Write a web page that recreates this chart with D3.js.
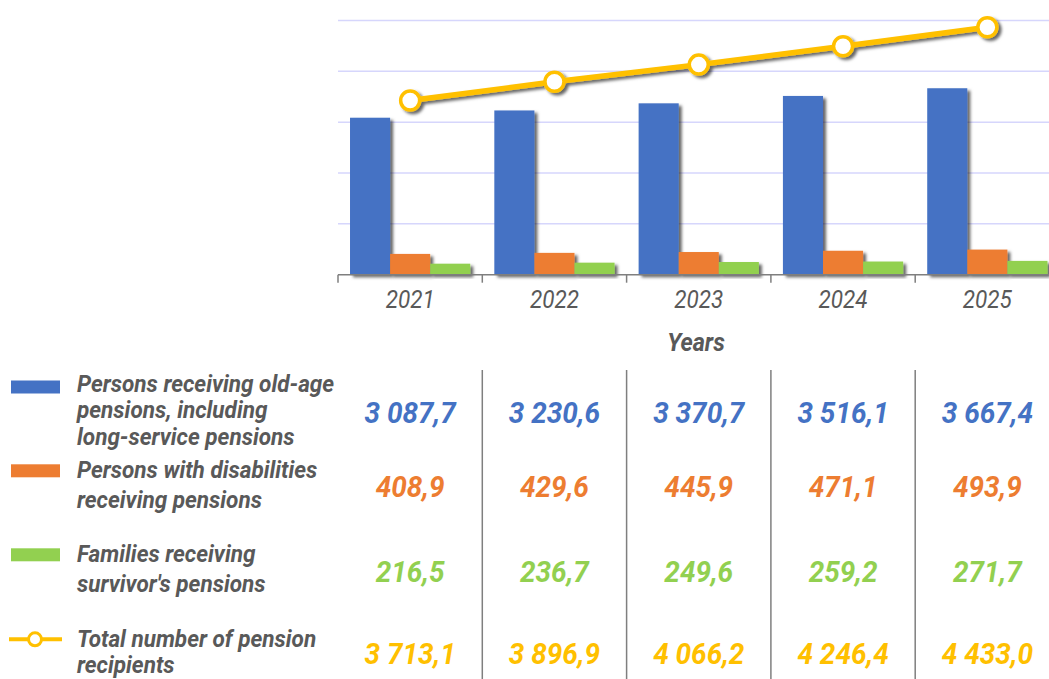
<!DOCTYPE html>
<html>
<head>
<meta charset="utf-8">
<script src="https://cdn.jsdelivr.net/npm/d3@7"></script>
<style>
  body { margin: 0; background: #fff; }
  text { font-family: Roboto, "Noto Sans", sans-serif; }
</style>
</head>
<body>
<div id="chart"></div>
<script>
// data
const years = ["2021", "2022", "2023", "2024", "2025"];
const oldAge = [3087.7, 3230.6, 3370.7, 3516.1, 3667.4];
const disability = [408.9, 429.6, 445.9, 471.1, 493.9];
const survivor = [216.5, 236.7, 249.6, 259.2, 271.7];
const total = [3713.1, 3896.9, 4066.2, 4246.4, 4433.0];
const seriesNames = [
    ["Persons receiving old-age", "pensions, including", "long-service pensions"],
    ["Persons with disabilities", "receiving pensions"],
    ["Families receiving", "survivor's pensions"],
    ["Total number of pension", "recipients"]
];
const colors = ["#4472C4", "#ED7D31", "#92D050", "#FFC000"];
const barKeys = ["oldAge", "disability", "survivor"];

const W = 1049, H = 679;
const svg = d3.select("#chart").append("svg")
    .attr("width", W).attr("height", H);

const defs = svg.append("defs");
const shadow = defs.append("filter").attr("id", "shadow")
    .attr("x", "-20%").attr("y", "-20%").attr("width", "150%").attr("height", "150%");
shadow.append("feDropShadow")
    .attr("dx", 3).attr("dy", 2.5).attr("stdDeviation", 1.5)
    .attr("flood-color", "#000").attr("flood-opacity", 0.6);

// scales
const x = d3.scaleBand().domain(years).range([338, 1059.5]).padding(0);
const xSub = d3.scaleBand().domain(barKeys).range([0, x.bandwidth()]).paddingInner(0).paddingOuter(0.3);
const y = d3.scaleLinear().domain([0, 5000]).range([274.7, 20.5]);
const y2 = d3.scaleLinear().domain([2000, 4500]).range([274.7, 20.5]);

// gridlines
svg.append("g").selectAll("line")
    .data(y.ticks(5).filter(d => d > 0))
    .join("line")
    .attr("x1", 338).attr("x2", 1059.5)
    .attr("y1", d => y(d)).attr("y2", d => y(d))
    .attr("stroke", "#D6D6FC").attr("stroke-width", 1.5);

// bars
const rows = years.map((yr, i) => ({year: yr, oldAge: oldAge[i], disability: disability[i], survivor: survivor[i]}));
const groups = svg.append("g").selectAll("g")
    .data(rows).join("g")
    .attr("transform", d => `translate(${x(d.year)},0)`);
groups.selectAll("rect")
    .data(d => barKeys.map(k => ({key: k, value: d[k]})))
    .join("rect")
    .attr("x", d => xSub(d.key))
    .attr("width", xSub.bandwidth())
    .attr("y", d => y(d.value))
    .attr("height", d => y(0) - y(d.value))
    .attr("fill", (d, i) => colors[i])
    .attr("filter", "url(#shadow)");

// x axis
const xAxis = svg.append("g").attr("transform", `translate(0,${y(0)})`);
xAxis.append("line").attr("x1", 338).attr("x2", 1059.5)
    .attr("stroke", "#7F7F7F").attr("stroke-width", 1.5);
xAxis.selectAll(".tick")
    .data(years.map(d => x(d)).concat([x.range()[1]]))
    .join("line")
    .attr("x1", d => d).attr("x2", d => d)
    .attr("y1", 0).attr("y2", 8)
    .attr("stroke", "#7F7F7F").attr("stroke-width", 1.5);

function ctext(g, tx, ty, str, opts) {
    return g.append("text")
        .attr("transform", `translate(${tx},${ty}) scale(${opts.sx},1)`)
        .attr("text-anchor", opts.anchor || "start")
        .attr("font-size", opts.size)
        .attr("font-weight", opts.weight || 400)
        .attr("font-style", "italic")
        .attr("fill", opts.fill || "#595959")
        .text(str);
}

years.forEach(yr => {
    ctext(svg, x(yr) + x.bandwidth() / 2, 308, yr, {sx: 0.9, size: 25, anchor: "middle"});
});
ctext(svg, 696, 351, "Years", {sx: 0.9, size: 26, anchor: "middle", weight: 700});

// total line
const line = d3.line().x((d, i) => x(years[i]) + x.bandwidth() / 2).y(d => y2(d));
const lineG = svg.append("g").attr("filter", "url(#shadow)");
lineG.append("path").datum(total)
    .attr("d", line).attr("fill", "none")
    .attr("stroke", colors[3]).attr("stroke-width", 5.5);
lineG.selectAll("circle").data(total).join("circle")
    .attr("cx", (d, i) => x(years[i]) + x.bandwidth() / 2)
    .attr("cy", d => y2(d))
    .attr("r", 9.5)
    .attr("fill", "#fff").attr("stroke", colors[3]).attr("stroke-width", 3.5);

// table
const tbl = svg.append("g");
tbl.selectAll("line")
    .data(years.slice(1))
    .join("line")
    .attr("x1", d => x(d)).attr("x2", d => x(d))
    .attr("y1", 370).attr("y2", H)
    .attr("stroke", "#7F7F7F").attr("stroke-width", 1.5);

const legendRows = [
    {swatchY: 380.5, textY: [391.5, 418.3, 445], valueY: 423, values: oldAge},
    {swatchY: 464.3, textY: [478.3, 508.3], valueY: 497, values: disability},
    {swatchY: 548.3, textY: [561.7, 591.7], valueY: 582, values: survivor},
    {swatchY: null, textY: [646.7, 672.5], valueY: 664, values: total}
];
const fmt = v => d3.format(",.1f")(v).replace(/,/g, " ").replace(".", ",");

legendRows.forEach((r, i) => {
    if (r.swatchY !== null) {
        tbl.append("rect").attr("x", 11).attr("y", r.swatchY)
            .attr("width", 49).attr("height", 13).attr("fill", colors[i]);
    } else {
        tbl.append("line").attr("x1", 9).attr("x2", 62)
            .attr("y1", 639.3).attr("y2", 639.3)
            .attr("stroke", colors[3]).attr("stroke-width", 4);
        tbl.append("circle").attr("cx", 35).attr("cy", 639.3).attr("r", 6.5)
            .attr("fill", "#fff").attr("stroke", colors[3]).attr("stroke-width", 3);
    }
    seriesNames[i].forEach((s, j) => {
        ctext(tbl, 77, r.textY[j], s, {sx: 0.96, size: 23.5, weight: 700});
    });
    r.values.forEach((v, k) => {
        ctext(tbl, x(years[k]) + x.bandwidth() / 2, r.valueY, fmt(v),
            {sx: 0.98, size: 28.5, weight: 700, anchor: "middle", fill: colors[i]});
    });
});
</script>
</body>
</html>
